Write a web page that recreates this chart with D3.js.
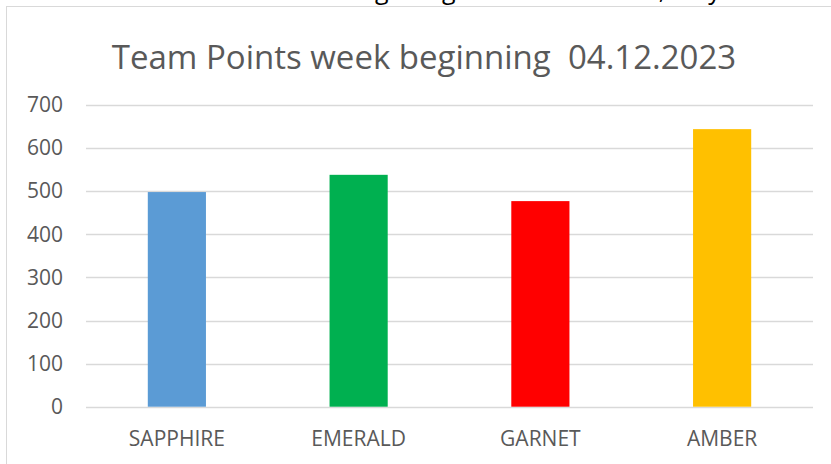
<!DOCTYPE html>
<html><head><meta charset="utf-8">
<script src="https://cdn.jsdelivr.net/npm/d3@7"></script>
<style>body{margin:0;background:#fff}svg{display:block}</style>
</head><body>
<svg id="c" width="831" height="464"></svg>
<script>
const titleText = "Team Points week beginning\u00a0\u00a004.12.2023";
const categories = ["SAPPHIRE", "EMERALD", "GARNET", "AMBER"];
const values = [498, 538, 477, 644];
const colors = ["#5b9bd5", "#00b050", "#ff0000", "#ffc000"];
const yTicks = [0, 100, 200, 300, 400, 500, 600, 700];
const topLineA = "Amber are still in the lead and the teams are";
const topLineB = "getting closer and closer, only tea";

const svg = d3.select("#c");
const font = "'Open Sans', Carlito, Calibri, Lato, sans-serif";

// partially visible text above the chart (cut off by the page edge, as in the reference)
svg.append("text").attr("x", 368).attr("y", -1).attr("text-anchor", "end")
  .attr("font-family", font).attr("font-size", 25).attr("fill", "#000").text(topLineA);
svg.append("text").attr("x", 375).attr("y", -1).attr("text-anchor", "start")
  .attr("font-family", font).attr("font-size", 25).attr("fill", "#000").text(topLineB);

// chart frame
svg.append("rect").attr("x", 6.5).attr("y", 6.5).attr("width", 900).attr("height", 600)
  .attr("fill", "#fff").attr("stroke", "#d9d9d9").attr("stroke-width", 1);

const x = d3.scaleBand().domain(categories).range([86, 813]).paddingInner(0.68).paddingOuter(0.34);
const y = d3.scaleLinear().domain([0, 700]).range([406.7, 105]);

// gridlines
svg.append("g").selectAll("line").data(yTicks).join("line")
  .attr("x1", 86).attr("x2", 813)
  .attr("y1", d => Math.round(y(d)) + 0.5).attr("y2", d => Math.round(y(d)) + 0.5)
  .attr("stroke", "#d9d9d9").attr("stroke-width", 1.3);

// bars
svg.append("g").selectAll("rect").data(values).join("rect")
  .attr("x", (d, i) => x(categories[i]))
  .attr("width", x.bandwidth())
  .attr("y", d => y(d))
  .attr("height", d => y(0) - y(d))
  .attr("fill", (d, i) => colors[i]);

// y axis labels
const yAxis = d3.axisLeft(y).tickValues(yTicks).tickSize(0).tickPadding(0);
const ga = svg.append("g").attr("transform", "translate(63,0)").call(yAxis);
ga.select(".domain").remove();
ga.selectAll("text").attr("font-family", font).attr("font-size", 21).attr("fill", "#595959");

// x axis labels
const xAxis = d3.axisBottom(x).tickSize(0).tickPadding(0);
const gx = svg.append("g").attr("transform", "translate(0,0)").call(xAxis);
gx.select(".domain").remove();
gx.selectAll("text").attr("font-family", font).attr("font-size", 21).attr("fill", "#595959")
  .attr("y", 446).attr("dy", null);

// title
svg.append("text").attr("x", 424).attr("y", 69).attr("text-anchor", "middle")
  .attr("font-family", font).attr("font-size", 33).attr("fill", "#595959").text(titleText);
</script>
</body></html>
